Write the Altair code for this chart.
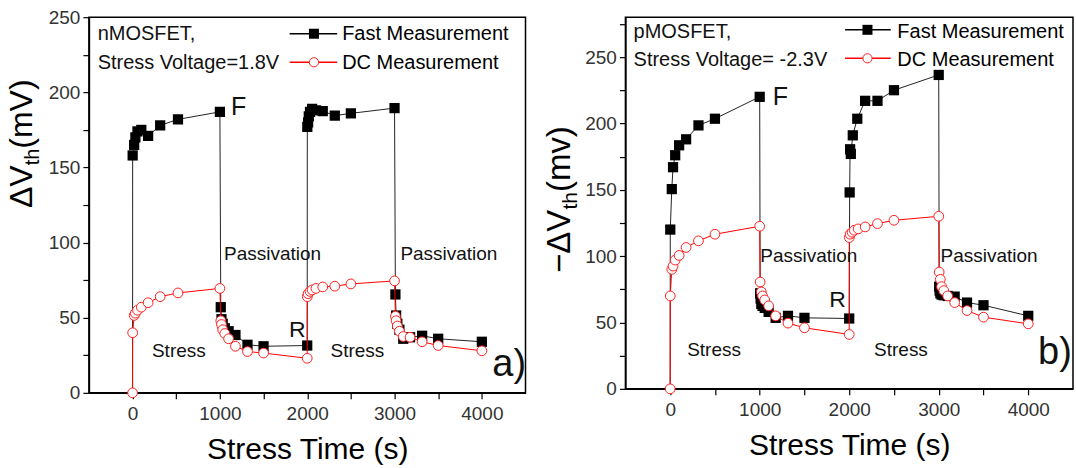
import altair as alt
import pandas as pd

FONT = "Liberation Sans"

# ---------------- panel a) nMOSFET ----------------
n_fast_t = [0, 1, 18, 32, 56, 100, 178, 316, 520, 1000,
            1010, 1018, 1032, 1056, 1100, 1178, 1316, 1500, 2000,
            2001, 2010, 2018, 2032, 2056, 2100, 2178, 2316, 2500, 3000,
            3010, 3018, 3032, 3056, 3100, 3178, 3316, 3500, 4000]
n_fast_v = [0, 158, 165, 170, 174, 175, 171, 178, 182, 187,
            57, 49, 46, 43, 41, 38.5, 32, 31, 31.5,
            177, 180, 184, 187, 189, 188, 187.5, 184.5, 186, 189.5,
            65.5, 51.5, 46, 42, 36, 37, 38, 36, 34]
n_dc_t = [0, 1, 18, 32, 56, 100, 178, 316, 520, 1000,
          1010, 1018, 1032, 1056, 1100, 1178, 1316, 1500, 2000,
          2001, 2010, 2032, 2056, 2100, 2178, 2316, 2500, 3000,
          3010, 3018, 3032, 3056, 3100, 3178, 3316, 3500, 4000]
n_dc_v = [0, 40, 51.5, 53, 55, 57, 60, 64, 66.5, 69.5,
          48, 45.5, 42, 39.5, 36, 31, 27.5, 26.5, 23,
          64, 66, 67.5, 68.5, 69.5, 70.5, 71, 72.5, 74.5,
          51, 48, 44.5, 41, 37.5, 37, 34, 31.5, 28]

# ---------------- panel b) pMOSFET ----------------
p_fast_t = [0, 1, 18, 32, 56, 100, 178, 316, 500, 1000,
            1005, 1010, 1018, 1032, 1056, 1100, 1178, 1316, 1500, 2000,
            2005, 2010, 2018, 2040, 2090, 2178, 2316, 2500, 3000,
            3005, 3010, 3018, 3032, 3056, 3100, 3178, 3316, 3500, 4000]
p_fast_v = [0, 120, 150.5, 167, 176, 183.5, 188, 198.5, 203.5, 220,
            72, 68, 64, 62.5, 61, 58, 53.5, 55, 53.5, 53,
            148, 180.5, 177, 191, 203.5, 217, 217, 225, 236.5,
            77, 74, 72, 71, 70.5, 70, 69.5, 65, 63, 55]
p_dc_t = [0, 1, 18, 32, 56, 100, 178, 316, 500, 1000,
          1005, 1018, 1032, 1056, 1100, 1178, 1316, 1500, 2000,
          2001, 2010, 2032, 2056, 2100, 2178, 2316, 2500, 3000,
          3005, 3018, 3032, 3056, 3100, 3178, 3316, 3500, 4000]
p_dc_v = [0, 70, 90, 92.5, 97, 100.5, 106.5, 111.5, 116.5, 122.5,
          80.5, 73, 70, 67, 62.5, 55, 49.5, 46, 41,
          114, 116.5, 118, 119.5, 120.5, 122, 124.5, 127, 130,
          88, 82.5, 77, 74, 70, 65, 59, 54, 49]

series_names = ["Fast Measurement", "DC Measurement"]

# annotation texts (text, t, v, fontsize)
n_notes = [("nMOSFET,", -400, 234.5, 20), ("Stress Voltage=1.8V", -400, 215.7, 20),
           ("F", 1128, 184.6, 25), ("Passivation", 1048, 88.2, 19),
           ("Passivation", 3067, 88.2, 19), ("Stress", 222, 23.7, 19),
           ("Stress", 2267, 24, 19), ("R", 1791, 37.2, 23), ("a)", 4120, 11, 38)]
p_notes = [("pMOSFET,", -409, 264.2, 20), ("Stress Voltage= -2.3V", -409, 243.3, 20),
           ("F", 1145, 213.8, 25), ("Passivation", 1007, 95.3, 19),
           ("Passivation", 3021, 95.3, 19), ("Stress", 190, 24.7, 19),
           ("Stress", 2278, 24.7, 19), ("R", 1776, 61.3, 23), ("b)", 4110, 18.4, 38)]


def panel(fast_t, fast_v, dc_t, dc_v, ymax, ytop_tick, width, height, notes,
          leg_t, leg_t2, leg_tm, leg_txt_t, leg_v1, leg_v2, leg_txt_v1, leg_txt_v2,
          ytitle):
    fast = pd.DataFrame({"t": fast_t, "v": fast_v})
    dc = pd.DataFrame({"t": dc_t, "v": dc_v})

    xs = alt.Scale(domain=[-500, 4500], nice=False, zero=False)
    ys = alt.Scale(domain=[0, ymax], nice=False, zero=False)
    xax = alt.Axis(values=list(range(0, 4001, 500)), format="d",
                   labelExpr="datum.value % 1000 == 0 ? datum.label : ''",
                   title="Stress Time (s)", labelPadding=6, titlePadding=11)
    yax = alt.Axis(values=list(range(0, ytop_tick + 1, 25)), format="d",
                   labelExpr="datum.value % 50 == 0 ? datum.label : ''",
                   title=None)
    X = alt.X("t:Q", scale=xs, axis=xax)
    Y = alt.Y("v:Q", scale=ys, axis=yax)

    fast_line = alt.Chart(fast).mark_line(color="#222222", strokeWidth=1).encode(x=X, y=Y, order="t:Q")
    fast_pts = alt.Chart(fast).transform_filter("datum.t > 0").mark_point(
        shape="square", filled=True, color="black", size=105, opacity=1).encode(x=X, y=Y)
    dc_line = alt.Chart(dc).mark_line(color="#ff0000", strokeWidth=1).encode(x=X, y=Y, order="t:Q")
    dc_pts = alt.Chart(dc).mark_point(shape="circle", filled=False, fill="white",
                                      color="#ff2020", strokeWidth=1, size=95, opacity=1).encode(x=X, y=Y)

    nd = pd.DataFrame(notes, columns=["s", "t", "v", "fs"])
    note_txt = alt.Chart(nd).mark_text(align="left", baseline="alphabetic", font=FONT,
                                       color="#111111").encode(
        x=X, y=Y, text="s:N", size=alt.Size("fs:Q", scale=None, legend=None))

    leg = pd.DataFrame({"t": [leg_t, leg_t], "t2": [leg_t2, leg_t2], "tm": [leg_tm, leg_tm],
                        "v": [leg_v1, leg_v2], "name": series_names,
                        "tv": [leg_txt_v1, leg_txt_v2], "tt": [leg_txt_t, leg_txt_t]})
    leg_fast = leg[leg.name == series_names[0]]
    leg_dc = leg[leg.name == series_names[1]]
    lr1 = alt.Chart(leg_fast).mark_rule(color="black", strokeWidth=1.5).encode(
        x=X, x2="t2:Q", y=Y)
    lr2 = alt.Chart(leg_dc).mark_rule(color="#ff0000", strokeWidth=1.5).encode(
        x=X, x2="t2:Q", y=Y)
    lp1 = alt.Chart(leg_fast).mark_point(shape="square", filled=True, color="black",
                                         size=100, opacity=1).encode(
        x=alt.X("tm:Q", scale=xs, axis=xax), y=Y)
    lp2 = alt.Chart(leg_dc).mark_point(shape="circle", filled=False, fill="white",
                                       color="#ff2020", strokeWidth=1, size=85, opacity=1).encode(
        x=alt.X("tm:Q", scale=xs, axis=xax), y=Y)
    lt = alt.Chart(leg).mark_text(align="left", baseline="alphabetic", font=FONT,
                                  fontSize=20, color="black").encode(
        x=alt.X("tt:Q", scale=xs, axis=xax), y=alt.Y("tv:Q", scale=ys, axis=yax), text="name:N")

    title_layers = []
    for s, px, py, fs in ytitle:
        title_layers.append(
            alt.Chart(pd.DataFrame({"s": [s]})).mark_text(
                angle=270, align="left", baseline="alphabetic", font=FONT,
                fontSize=fs, color="black").encode(
                x=alt.value(px), y=alt.value(py), text="s:N"))

    return alt.layer(fast_line, fast_pts, dc_line, dc_pts, note_txt,
                     lr1, lr2, lp1, lp2, lt, *title_layers).properties(
        width=width, height=height)


left = panel(n_fast_t, n_fast_v, n_dc_t, n_dc_v, 250, 250, 437, 376, n_notes,
             1799, 2343, 2077, 2400, 239, 220, 234.5, 215.7,
             [("\u0394V", -57, 191, 32), ("th", -50, 148.3, 20), ("(mV)", -57, 131.6, 32)])
right = panel(p_fast_t, p_fast_v, p_dc_t, p_dc_v, 280, 275, 448, 372, p_notes,
              1954, 2464, 2204, 2538, 270.5, 249, 264.7, 243.3,
              [("\u2212\u0394V", -55, 256, 33), ("th", -48, 192.5, 21), ("(mv)", -55, 175, 33)])

chart = alt.hconcat(left, right, spacing=16).properties(
    padding={"left": 5, "top": 7, "right": 2, "bottom": 3}
).configure_view(
    stroke="black", strokeWidth=1.5
).configure_axis(
    grid=False, domainColor="black", domainWidth=1.5, tickColor="black", tickWidth=1.2,
    tickSize=6, labelFont=FONT, labelFontSize=19, labelColor="#333333", labelPadding=3,
    titleFont=FONT, titleFontSize=30, titleFontWeight="normal", titleColor="black",
    titlePadding=14
)

chart.save("out.html", embed_options={"renderer": "svg", "actions": False})
